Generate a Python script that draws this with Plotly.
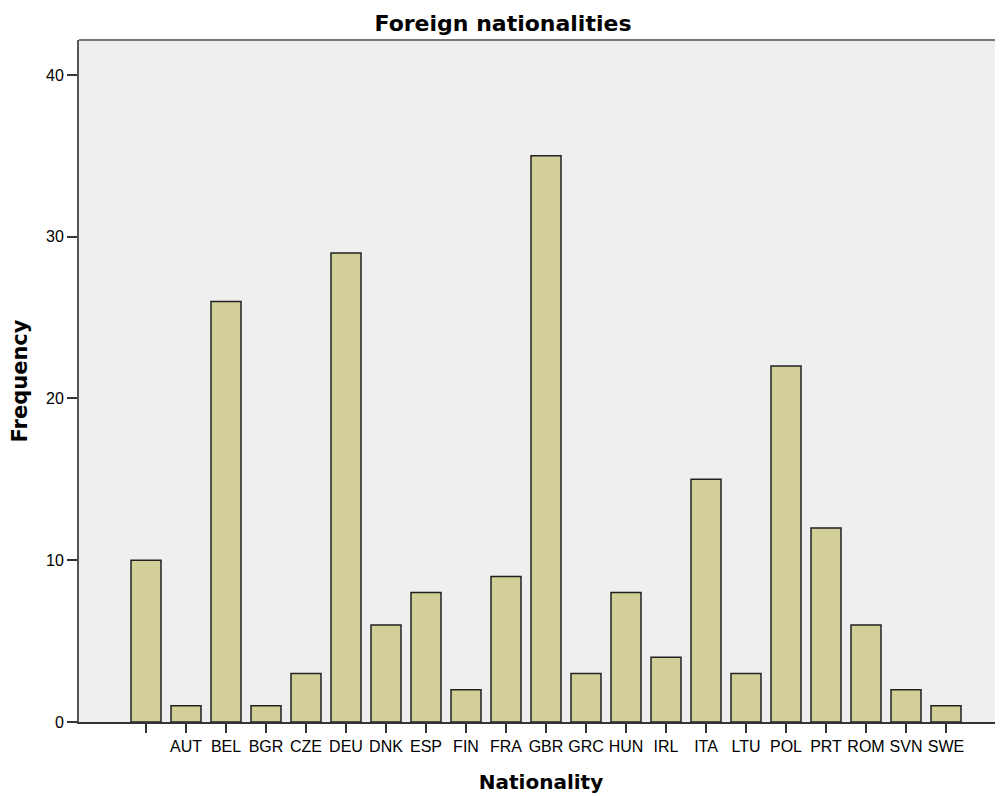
import plotly.graph_objects as go

categories = ["", "AUT", "BEL", "BGR", "CZE", "DEU", "DNK", "ESP", "FIN", "FRA",
              "GBR", "GRC", "HUN", "IRL", "ITA", "LTU", "POL", "PRT", "ROM", "SVN", "SWE"]
frequency = [10, 1, 26, 1, 3, 29, 6, 8, 2, 9, 35, 3, 8, 4, 15, 3, 22, 12, 6, 2, 1]
y_ticks = [0, 10, 20, 30, 40]

positions = list(range(len(categories)))

TITLE_FONT = "DejaVu Sans, Liberation Sans, Arial"
TICK_FONT = "Liberation Sans, Arial"

fig = go.Figure(go.Bar(
    x=positions, y=frequency, width=0.75,
    marker=dict(color="#D3CF98", line=dict(color="#222222", width=1.5)),
    hoverinfo="x+y",
))

# page body has an 8px margin, so the figure is 8px smaller than the window
W, H = 995, 788
fig.update_layout(
    width=W, height=H,
    margin=dict(l=71, r=0, t=32, b=74),
    paper_bgcolor="white", plot_bgcolor="#EFEFEF",
    showlegend=False,
    title=dict(text="<b>Foreign nationalities</b>", x=(503 - 8) / W, xanchor="center",
               y=1 - 15 / H, yanchor="middle",
               font=dict(family=TITLE_FONT, size=22, color="black")),
    font=dict(family=TICK_FONT, color="black"),
    shapes=[dict(type="line", xref="paper", yref="paper", x0=0, x1=1, y0=1, y1=1,
                 line=dict(color="#777777", width=2))],
)

fig.update_xaxes(
    range=[-1.675, 21.425], tickvals=positions, ticktext=categories,
    showgrid=False, zeroline=False, showline=True, linecolor="#333333", linewidth=2,
    ticks="outside", ticklen=9, tickwidth=2, tickcolor="#333333",
    tickfont=dict(family=TICK_FONT, size=16, color="black"),
    title=dict(text="<b>Nationality</b>", font=dict(family=TITLE_FONT, size=20, color="black"), standoff=21),
)
fig.update_yaxes(
    range=[0, 42.16], tickvals=y_ticks,
    showgrid=False, zeroline=False, showline=True, linecolor="#555555", linewidth=2,
    ticks="outside", ticklen=10, tickwidth=2, tickcolor="#333333",
    tickfont=dict(family=TICK_FONT, size=16, color="black"),
    title=dict(text="<b>Frequency</b>", font=dict(family=TITLE_FONT, size=21, color="black"), standoff=13),
)

fig.write_html("out.html")
